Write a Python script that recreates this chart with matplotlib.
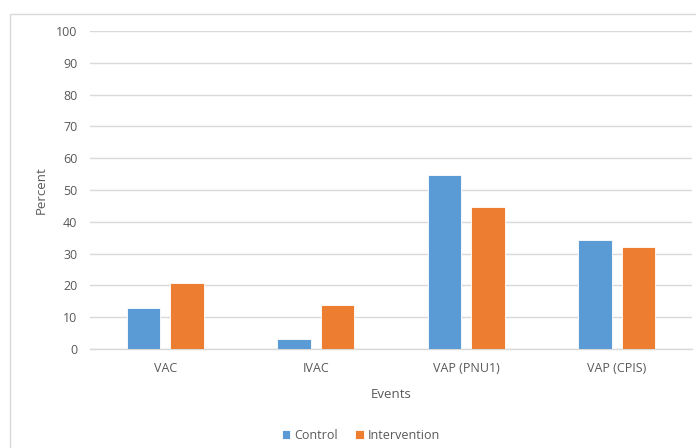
import matplotlib
matplotlib.use('Agg')
import numpy as np
from matplotlib import pyplot as plt
from matplotlib.patches import Rectangle

# event rates per group (percent)
categories = ['VAC', 'IVAC', 'VAP (PNU1)', 'VAP (CPIS)']
control = [12.8, 3.1, 54.6, 34.4]
intervention = [20.7, 13.8, 44.7, 32.2]

blue = '#5b9bd5'
orange = '#ed7d31'
grey_text = '#595959'

plt.rcParams['font.family'] = ['Open Sans', 'DejaVu Sans']

fig = plt.figure(figsize=(6.96, 4.48), dpi=100)
ax = fig.add_axes([90 / 696, 1 - 349 / 448, 602 / 696, 318 / 448])

# chart area border (runs off the right and bottom edges)
fig.patches.append(Rectangle((10 / 696, -0.1), 1.0, (448 - 14) / 448 + 0.1,
                             transform=fig.transFigure, fill=False,
                             edgecolor='#d9d9d9', linewidth=1.0))

x = np.arange(len(categories))
w = 0.222
gap = 0.068
ax.bar(x - (w + gap) / 2, control, width=w, color=blue, label='Control',
       edgecolor='white', linewidth=0.6, zorder=3)
ax.bar(x + (w + gap) / 2, intervention, width=w, color=orange, label='Intervention',
       edgecolor='white', linewidth=0.6, zorder=3)

ax.set_xlim(-0.5, len(categories) - 0.5)
ax.set_ylim(0, 100)
ax.set_yticks(np.arange(0, 101, 10))
ax.yaxis.grid(True, color='#d9d9d9', linewidth=1.0, zorder=0)
ax.set_axisbelow(True)

for side in ['top', 'right', 'left']:
    ax.spines[side].set_visible(False)
ax.spines['bottom'].set_color('#d9d9d9')
ax.spines['bottom'].set_linewidth(1.0)

ax.set_xticks(x)
ax.set_xticklabels(categories)
ax.tick_params(axis='both', length=0, colors=grey_text, labelsize=9)
ax.tick_params(axis='y', pad=9)
ax.tick_params(axis='x', pad=9)

ax.set_xlabel('Events', color=grey_text, fontsize=9.5, labelpad=10)
ax.set_ylabel('Percent', color=grey_text, fontsize=9.5, labelpad=6)

ax.legend(loc='upper center', bbox_to_anchor=(0.45, -0.215), ncol=2, frameon=False,
          fontsize=9, labelcolor=grey_text, handlelength=0.7, handleheight=0.7,
          handletextpad=0.3, columnspacing=1.4)

fig.savefig('out.png', dpi=100)
